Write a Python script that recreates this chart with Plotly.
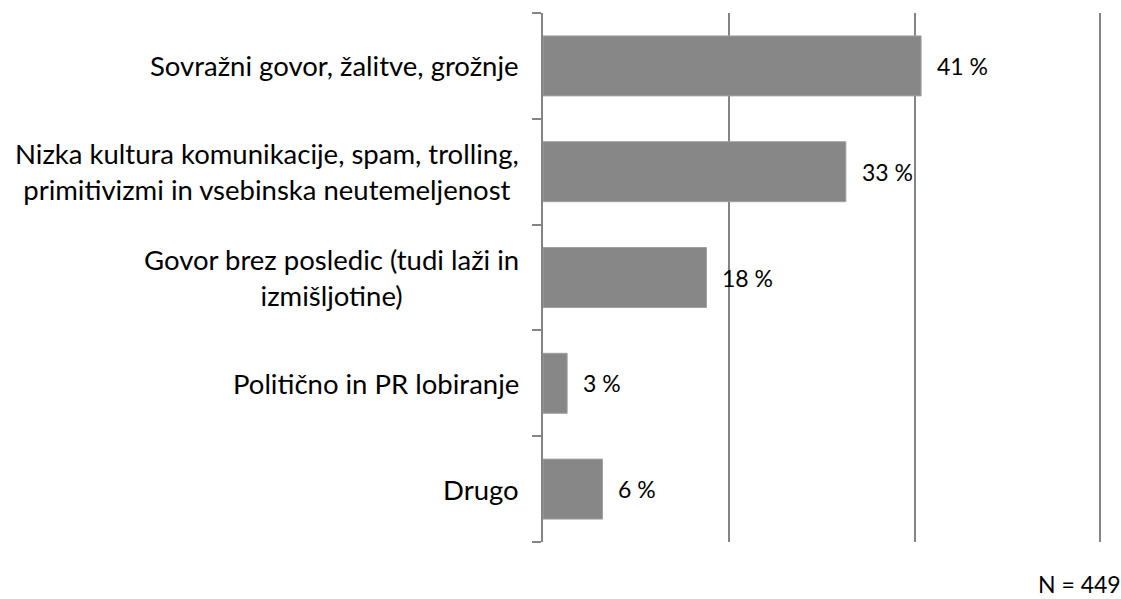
import plotly.graph_objects as go

categories = [
    "Sovražni govor, žalitve, grožnje",
    "Nizka kultura komunikacije, spam, trolling,<br>primitivizmi in vsebinska neutemeljenost",
    "Govor brez posledic (tudi laži in<br>izmišljotine)",
    "Politično in PR lobiranje",
    "Drugo",
]
values = [40.7, 32.6, 17.6, 2.6, 6.4]
x_ticks = [0, 20, 40, 60]
note = "N = 449"

FONT = "Lato"
GRID = "#848484"
BAR = "#878787"

fig = go.Figure()
fig.add_trace(go.Bar(
    x=values, y=list(range(len(categories))), orientation="h",
    marker=dict(color=BAR, line=dict(color="#a0a0a0", width=1)),
    width=0.567, hoverinfo="skip",
))

annotations = []
for i, (c, v) in enumerate(zip(categories, values)):
    annotations.append(dict(
        x=0, xref="paper", y=i, yref="y", text=c, showarrow=False,
        xanchor="right", yanchor="middle", align="center", xshift=-22,
        font=dict(family=FONT, size=27.5, color="#000000"),
    ))
    annotations.append(dict(
        x=v, xref="x", y=i, yref="y", text=f"{v:.0f} %", showarrow=False,
        xanchor="left", yanchor="middle", xshift=14,
        font=dict(family=FONT, size=23, color="#000000"),
    ))
annotations.append(dict(
    x=1, xref="paper", y=0, yref="paper", text=note, showarrow=False,
    xanchor="right", yanchor="middle", xshift=18, yshift=-42,
    font=dict(family=FONT, size=23, color="#000000"),
))

fig.update_layout(
    width=1121, height=599,
    margin=dict(l=543, r=16, t=13, b=57),
    paper_bgcolor="white", plot_bgcolor="white",
    showlegend=False, annotations=annotations,
    xaxis=dict(range=[0, 60.5], tickvals=x_ticks, showticklabels=False,
               showgrid=True, gridcolor=GRID, gridwidth=1.6,
               zeroline=False, showline=False, ticks=""),
    yaxis=dict(range=[len(categories) - 0.5, -0.5],
               tickvals=[i - 0.5 for i in range(len(categories) + 1)],
               showticklabels=False, showgrid=False, zeroline=False,
               showline=True, linecolor=GRID, linewidth=1.6,
               ticks="outside", ticklen=9, tickcolor=GRID, tickwidth=1.6),
)

fig.write_html("out.html", config={"displayModeBar": False},
               post_script="document.body.style.margin='0';")
